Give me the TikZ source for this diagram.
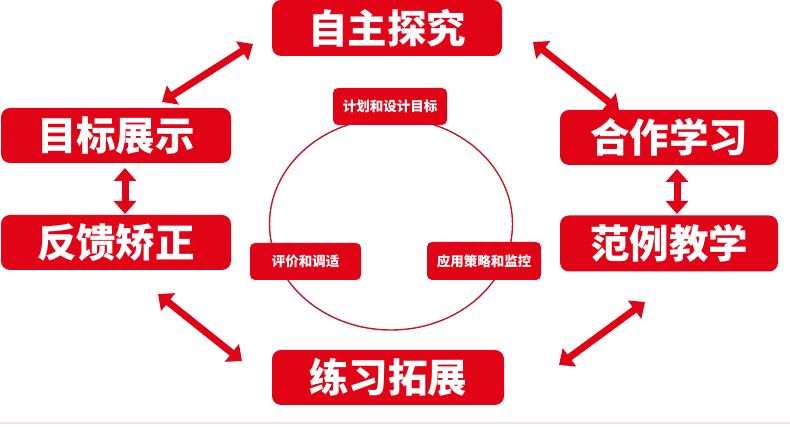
\documentclass[tikz,border=0pt]{standalone}
\usepackage{fontspec}
\newfontfamily\cjk{Noto Sans CJK SC}
\usetikzlibrary{arrows.meta}
\definecolor{boxred}{RGB}{224,4,22}
\definecolor{ringred}{RGB}{190,28,36}
\definecolor{faintpink}{RGB}{252,226,230}
\tikzset{
  bigbox/.style={fill=boxred, rounded corners=9pt, text=white, inner sep=0pt,
    font=\cjk\bfseries\fontsize{39.5}{41}\selectfont},
  smallbox/.style={fill=boxred, rounded corners=5pt, text=white, inner sep=0pt,
    font=\cjk\bfseries\fontsize{13.5}{15}\selectfont},
  dblarrow/.style={draw=boxred, line width=7pt,
    {Triangle[length=13pt,width=22pt]}-{Triangle[length=13pt,width=22pt]}},
}
\begin{document}
\begin{tikzpicture}[x=1pt,y=1pt]
\useasboundingbox (0,0) rectangle (790,427);
\fill[white] (0,0) rectangle (790,427);
\draw[faintpink, line width=1.2pt] (0,4) -- (790,4);

% ring
\draw[ringred, line width=1.4pt] (391,203) ellipse [x radius=121.5, y radius=106];

% big boxes
\node[bigbox, minimum width=230, minimum height=56] (zz) at (387,399) {自主探究};
\node[bigbox, minimum width=230, minimum height=55] (mb) at (116,291.5) {目标展示};
\node[bigbox, minimum width=218, minimum height=55] (hz) at (669,289.5) {合作学习};
\node[bigbox, minimum width=230, minimum height=55] (fk) at (116,184.5) {反馈矫正};
\node[bigbox, minimum width=218, minimum height=56] (fl) at (669,183.5) {范例教学};
\node[bigbox, minimum width=232, minimum height=55] (lx) at (388,49.5) {练习拓展};

% small boxes
\node[smallbox, minimum width=114, minimum height=37] (jh) at (390,320.5) {计划和设计目标};
\node[smallbox, minimum width=111, minimum height=37] (pj) at (305.5,165.5) {评价和调适};
\node[smallbox, minimum width=114, minimum height=38] (yy) at (484,166) {应用策略和监控};

% arrow end points
\coordinate (a1s) at (162,325); \coordinate (a1e) at (253,383);
\coordinate (a2s) at (533,385); \coordinate (a2e) at (619,317);
\coordinate (a3s) at (158,133); \coordinate (a3e) at (242,66);
\coordinate (a4s) at (645,125); \coordinate (a4e) at (559,62);
\coordinate (v1s) at (125,259); \coordinate (v1e) at (125,213);
\coordinate (v2s) at (677,258); \coordinate (v2e) at (677,213);

\draw[dblarrow] (a1s) -- (a1e);
\draw[dblarrow] (a2s) -- (a2e);
\draw[dblarrow] (a3s) -- (a3e);
\draw[dblarrow] (a4s) -- (a4e);
\draw[dblarrow] (v1s) -- (v1e);
\draw[dblarrow] (v2s) -- (v2e);
\end{tikzpicture}
\end{document}
